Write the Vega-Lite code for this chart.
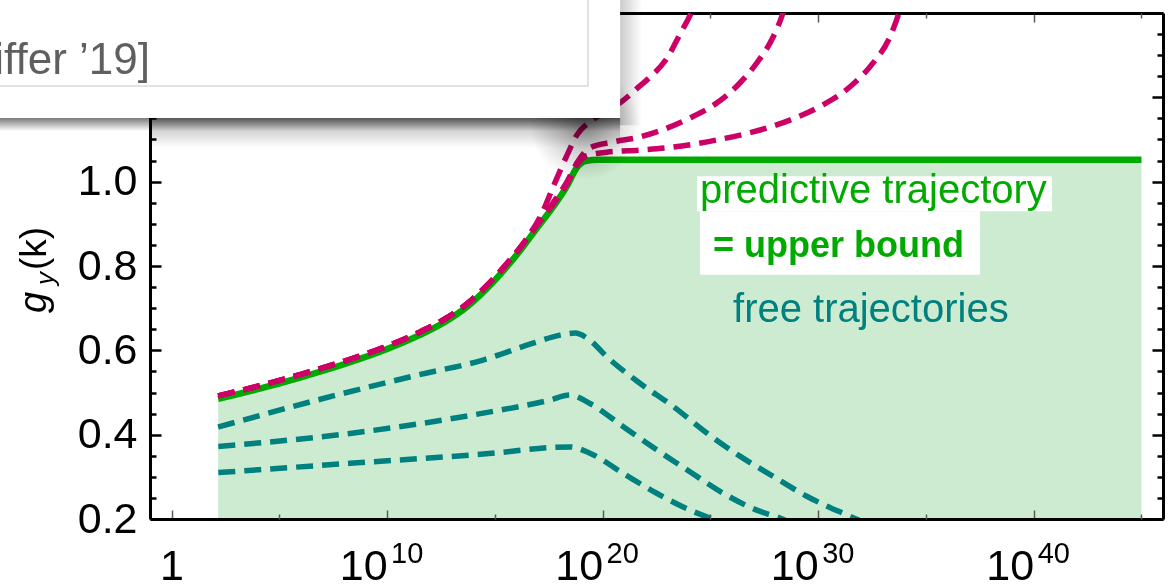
{
  "$schema": "https://vega.github.io/schema/vega-lite/v6.json",
  "width": 1013,
  "height": 506,
  "autosize": {"type": "none"},
  "padding": {"left": 150, "top": 13, "right": 13, "bottom": 66},
  "background": "white",
  "config": {
    "view": {"stroke": null},
    "font": "Liberation Sans",
    "text": {"font": "Liberation Sans"}
  },
  "datasets": {
    "predictive": [
      {"log10_k": 2.16, "g_y": 0.485},
      {"log10_k": 4.0, "g_y": 0.508},
      {"log10_k": 6.0, "g_y": 0.536},
      {"log10_k": 8.0, "g_y": 0.567},
      {"log10_k": 10.0, "g_y": 0.603},
      {"log10_k": 11.5, "g_y": 0.636},
      {"log10_k": 12.7, "g_y": 0.668},
      {"log10_k": 13.7, "g_y": 0.703},
      {"log10_k": 14.6, "g_y": 0.745},
      {"log10_k": 15.5, "g_y": 0.795},
      {"log10_k": 16.3, "g_y": 0.845},
      {"log10_k": 17.0, "g_y": 0.893},
      {"log10_k": 17.7, "g_y": 0.940},
      {"log10_k": 18.35, "g_y": 0.990},
      {"log10_k": 18.8, "g_y": 1.033},
      {"log10_k": 19.2, "g_y": 1.049},
      {"log10_k": 19.8, "g_y": 1.052},
      {"log10_k": 45.0, "g_y": 1.052}
    ],
    "deviating": [
      {"trajectory": "A", "log10_k": 2.16, "g_y": 0.492},
      {"trajectory": "A", "log10_k": 4.0, "g_y": 0.515},
      {"trajectory": "A", "log10_k": 6.0, "g_y": 0.543},
      {"trajectory": "A", "log10_k": 8.0, "g_y": 0.574},
      {"trajectory": "A", "log10_k": 10.0, "g_y": 0.610},
      {"trajectory": "A", "log10_k": 11.5, "g_y": 0.643},
      {"trajectory": "A", "log10_k": 12.7, "g_y": 0.675},
      {"trajectory": "A", "log10_k": 13.7, "g_y": 0.710},
      {"trajectory": "A", "log10_k": 14.6, "g_y": 0.752},
      {"trajectory": "A", "log10_k": 15.5, "g_y": 0.802},
      {"trajectory": "A", "log10_k": 16.3, "g_y": 0.852},
      {"trajectory": "A", "log10_k": 17.23, "g_y": 0.930},
      {"trajectory": "A", "log10_k": 17.70, "g_y": 0.987},
      {"trajectory": "A", "log10_k": 18.35, "g_y": 1.063},
      {"trajectory": "A", "log10_k": 18.81, "g_y": 1.111},
      {"trajectory": "A", "log10_k": 19.41, "g_y": 1.142},
      {"trajectory": "A", "log10_k": 20.11, "g_y": 1.165},
      {"trajectory": "A", "log10_k": 20.81, "g_y": 1.187},
      {"trajectory": "A", "log10_k": 21.73, "g_y": 1.227},
      {"trajectory": "A", "log10_k": 22.20, "g_y": 1.248},
      {"trajectory": "A", "log10_k": 22.99, "g_y": 1.293},
      {"trajectory": "A", "log10_k": 23.59, "g_y": 1.350},
      {"trajectory": "A", "log10_k": 24.15, "g_y": 1.405},
      {"trajectory": "A", "log10_k": 24.38, "g_y": 1.435},
      {"trajectory": "B", "log10_k": 2.16, "g_y": 0.492},
      {"trajectory": "B", "log10_k": 4.0, "g_y": 0.515},
      {"trajectory": "B", "log10_k": 6.0, "g_y": 0.543},
      {"trajectory": "B", "log10_k": 8.0, "g_y": 0.574},
      {"trajectory": "B", "log10_k": 10.0, "g_y": 0.610},
      {"trajectory": "B", "log10_k": 11.5, "g_y": 0.643},
      {"trajectory": "B", "log10_k": 12.7, "g_y": 0.675},
      {"trajectory": "B", "log10_k": 13.7, "g_y": 0.710},
      {"trajectory": "B", "log10_k": 14.6, "g_y": 0.752},
      {"trajectory": "B", "log10_k": 15.5, "g_y": 0.802},
      {"trajectory": "B", "log10_k": 16.3, "g_y": 0.852},
      {"trajectory": "B", "log10_k": 17.0, "g_y": 0.902},
      {"trajectory": "B", "log10_k": 17.70, "g_y": 0.950},
      {"trajectory": "B", "log10_k": 18.35, "g_y": 1.000},
      {"trajectory": "B", "log10_k": 18.81, "g_y": 1.045},
      {"trajectory": "B", "log10_k": 19.41, "g_y": 1.080},
      {"trajectory": "B", "log10_k": 20.48, "g_y": 1.094},
      {"trajectory": "B", "log10_k": 21.73, "g_y": 1.106},
      {"trajectory": "B", "log10_k": 22.99, "g_y": 1.127},
      {"trajectory": "B", "log10_k": 24.05, "g_y": 1.151},
      {"trajectory": "B", "log10_k": 25.31, "g_y": 1.187},
      {"trajectory": "B", "log10_k": 26.37, "g_y": 1.234},
      {"trajectory": "B", "log10_k": 27.16, "g_y": 1.282},
      {"trajectory": "B", "log10_k": 27.91, "g_y": 1.343},
      {"trajectory": "B", "log10_k": 28.37, "g_y": 1.400},
      {"trajectory": "B", "log10_k": 28.55, "g_y": 1.430},
      {"trajectory": "C", "log10_k": 2.16, "g_y": 0.492},
      {"trajectory": "C", "log10_k": 4.0, "g_y": 0.515},
      {"trajectory": "C", "log10_k": 6.0, "g_y": 0.543},
      {"trajectory": "C", "log10_k": 8.0, "g_y": 0.574},
      {"trajectory": "C", "log10_k": 10.0, "g_y": 0.610},
      {"trajectory": "C", "log10_k": 11.5, "g_y": 0.643},
      {"trajectory": "C", "log10_k": 12.7, "g_y": 0.675},
      {"trajectory": "C", "log10_k": 13.7, "g_y": 0.710},
      {"trajectory": "C", "log10_k": 14.6, "g_y": 0.752},
      {"trajectory": "C", "log10_k": 15.5, "g_y": 0.802},
      {"trajectory": "C", "log10_k": 16.3, "g_y": 0.852},
      {"trajectory": "C", "log10_k": 17.0, "g_y": 0.900},
      {"trajectory": "C", "log10_k": 17.70, "g_y": 0.946},
      {"trajectory": "C", "log10_k": 18.35, "g_y": 0.995},
      {"trajectory": "C", "log10_k": 18.81, "g_y": 1.040},
      {"trajectory": "C", "log10_k": 19.28, "g_y": 1.062},
      {"trajectory": "C", "log10_k": 20.20, "g_y": 1.070},
      {"trajectory": "C", "log10_k": 21.73, "g_y": 1.075},
      {"trajectory": "C", "log10_k": 23.27, "g_y": 1.082},
      {"trajectory": "C", "log10_k": 25.31, "g_y": 1.099},
      {"trajectory": "C", "log10_k": 26.98, "g_y": 1.118},
      {"trajectory": "C", "log10_k": 28.69, "g_y": 1.146},
      {"trajectory": "C", "log10_k": 30.22, "g_y": 1.182},
      {"trajectory": "C", "log10_k": 31.48, "g_y": 1.225},
      {"trajectory": "C", "log10_k": 32.54, "g_y": 1.281},
      {"trajectory": "C", "log10_k": 33.33, "g_y": 1.343},
      {"trajectory": "C", "log10_k": 33.75, "g_y": 1.400},
      {"trajectory": "C", "log10_k": 33.94, "g_y": 1.431}
    ],
    "free": [
      {"trajectory": "1", "log10_k": 2.16, "g_y": 0.418},
      {"trajectory": "1", "log10_k": 6.75, "g_y": 0.482},
      {"trajectory": "1", "log10_k": 11.39, "g_y": 0.541},
      {"trajectory": "1", "log10_k": 14.45, "g_y": 0.577},
      {"trajectory": "1", "log10_k": 16.77, "g_y": 0.617},
      {"trajectory": "1", "log10_k": 18.02, "g_y": 0.636},
      {"trajectory": "1", "log10_k": 18.72, "g_y": 0.641},
      {"trajectory": "1", "log10_k": 19.41, "g_y": 0.624},
      {"trajectory": "1", "log10_k": 20.19, "g_y": 0.585},
      {"trajectory": "1", "log10_k": 21.73, "g_y": 0.522},
      {"trajectory": "1", "log10_k": 23.27, "g_y": 0.467},
      {"trajectory": "1", "log10_k": 24.83, "g_y": 0.404},
      {"trajectory": "1", "log10_k": 26.37, "g_y": 0.349},
      {"trajectory": "1", "log10_k": 27.92, "g_y": 0.301},
      {"trajectory": "1", "log10_k": 29.47, "g_y": 0.254},
      {"trajectory": "1", "log10_k": 31.32, "g_y": 0.210},
      {"trajectory": "1", "log10_k": 32.41, "g_y": 0.186},
      {"trajectory": "2", "log10_k": 2.17, "g_y": 0.372},
      {"trajectory": "2", "log10_k": 8.28, "g_y": 0.403},
      {"trajectory": "2", "log10_k": 14.46, "g_y": 0.451},
      {"trajectory": "2", "log10_k": 17.56, "g_y": 0.482},
      {"trajectory": "2", "log10_k": 18.49, "g_y": 0.494},
      {"trajectory": "2", "log10_k": 19.41, "g_y": 0.474},
      {"trajectory": "2", "log10_k": 20.96, "g_y": 0.419},
      {"trajectory": "2", "log10_k": 22.51, "g_y": 0.364},
      {"trajectory": "2", "log10_k": 24.05, "g_y": 0.312},
      {"trajectory": "2", "log10_k": 25.60, "g_y": 0.261},
      {"trajectory": "2", "log10_k": 27.15, "g_y": 0.221},
      {"trajectory": "2", "log10_k": 28.23, "g_y": 0.202},
      {"trajectory": "2", "log10_k": 29.16, "g_y": 0.179},
      {"trajectory": "3", "log10_k": 2.17, "g_y": 0.310},
      {"trajectory": "3", "log10_k": 8.28, "g_y": 0.332},
      {"trajectory": "3", "log10_k": 14.46, "g_y": 0.354},
      {"trajectory": "3", "log10_k": 18.49, "g_y": 0.371},
      {"trajectory": "3", "log10_k": 19.41, "g_y": 0.356},
      {"trajectory": "3", "log10_k": 20.96, "g_y": 0.308},
      {"trajectory": "3", "log10_k": 22.51, "g_y": 0.261},
      {"trajectory": "3", "log10_k": 24.05, "g_y": 0.221},
      {"trajectory": "3", "log10_k": 24.98, "g_y": 0.202},
      {"trajectory": "3", "log10_k": 25.91, "g_y": 0.181}
    ],
    "decades": [
      {"log10_k": 10, "exponent": "10"},
      {"log10_k": 20, "exponent": "20"},
      {"log10_k": 30, "exponent": "30"},
      {"log10_k": 40, "exponent": "40"}
    ]
  },
  "resolve": {"axis": {"x": "independent", "y": "independent"}},
  "layer": [
    {
      "data": {"name": "predictive"},
      "mark": {"type": "area", "color": "#cdebd0", "interpolate": "monotone", "clip": true},
      "encoding": {
        "x": {"field": "log10_k", "type": "quantitative", "scale": {"domain": [-1, 46], "nice": false, "zero": false},
          "axis": {"orient": "bottom", "values": [0, 10, 20, 30, 40], "tickSize": -9, "tickColor": "#5a5a5a", "tickWidth": 1.5,
            "domain": true, "domainColor": "#000000", "domainWidth": 3, "grid": false, "title": null,
            "labelExpr": "datum.value == 0 ? '1' : '10'",
            "labelAlign": {"condition": {"test": "datum.value == 0", "value": "center"}, "value": "right"},
            "labelFont": "Liberation Sans", "labelFontSize": 43, "labelColor": "#000000", "labelPadding": 35,
            "labelBaseline": "top", "labelFlush": false, "labelOverlap": false, "zindex": 1}},
        "y": {"field": "g_y", "type": "quantitative", "scale": {"domain": [0.2, 1.4], "nice": false, "zero": false},
          "axis": {"orient": "left", "values": [0.2, 0.4, 0.6, 0.8, 1.0, 1.2, 1.4], "tickSize": -11, "tickColor": "#000000", "tickWidth": 2.5,
            "domain": true, "domainColor": "#000000", "domainWidth": 3, "grid": false, "title": null, "format": ".1f",
            "labelFont": "Liberation Sans", "labelFontSize": 43, "labelColor": "#000000", "labelPadding": 24,
            "labelFlush": false, "labelOverlap": false, "zindex": 0}},
        "y2": {"datum": 0.2}
      }
    },
    {
      "data": {"values": [{}]},
      "mark": {"type": "rect", "fill": "white"},
      "encoding": {
        "x": {"datum": 24.38, "type": "quantitative", "scale": {"domain": [-1, 46], "nice": false, "zero": false},
          "axis": {"orient": "bottom", "values": [5, 15, 25, 35, 45], "tickSize": -5, "tickColor": "#5a5a5a", "tickWidth": 1.5,
            "domain": false, "grid": false, "labels": false, "title": null, "zindex": 1}},
        "x2": {"datum": 40.85},
        "y": {"datum": 1.013, "type": "quantitative", "scale": {"domain": [0.2, 1.4], "nice": false, "zero": false},
          "axis": {"orient": "left", "values": [0.25, 0.3, 0.35, 0.45, 0.5, 0.55, 0.65, 0.7, 0.75, 0.85, 0.9, 0.95, 1.05, 1.1, 1.15, 1.25, 1.3, 1.35],
            "tickSize": -6, "tickColor": "#000000", "tickWidth": 2.5, "domain": false, "grid": false, "labels": false, "title": null, "zindex": 0}},
        "y2": {"datum": 0.93}
      }
    },
    {
      "data": {"values": [{}]},
      "mark": {"type": "rect", "fill": "white"},
      "encoding": {
        "x": {"datum": 24.52, "type": "quantitative", "scale": {"domain": [-1, 46], "nice": false, "zero": false}, "axis": null},
        "x2": {"datum": 37.51},
        "y": {"datum": 0.93, "type": "quantitative", "scale": {"domain": [0.2, 1.4], "nice": false, "zero": false}, "axis": null},
        "y2": {"datum": 0.779}
      }
    },
    {
      "data": {"name": "predictive"},
      "mark": {"type": "line", "color": "#00aa00", "strokeWidth": 6.5, "interpolate": "monotone", "clip": true},
      "encoding": {
        "x": {"field": "log10_k", "type": "quantitative", "scale": {"domain": [-1, 46], "nice": false, "zero": false},
          "axis": {"orient": "top", "values": [0, 10, 20, 30, 40], "tickSize": -9, "tickColor": "#5a5a5a", "tickWidth": 1.5,
            "domain": true, "domainColor": "#000000", "domainWidth": 3, "grid": false, "labels": false, "title": null, "zindex": 0}},
        "y": {"field": "g_y", "type": "quantitative", "scale": {"domain": [0.2, 1.4], "nice": false, "zero": false},
          "axis": {"orient": "right", "values": [0.2, 0.4, 0.6, 0.8, 1.0, 1.2, 1.4], "tickSize": -11, "tickColor": "#000000", "tickWidth": 2.5,
            "domain": true, "domainColor": "#000000", "domainWidth": 3, "grid": false, "labels": false, "title": null, "zindex": 1}}
      }
    },
    {
      "data": {"name": "deviating"},
      "mark": {"type": "line", "color": "#cc0066", "strokeWidth": 5.5, "strokeDash": [17, 9], "interpolate": "monotone", "clip": true},
      "encoding": {
        "detail": {"field": "trajectory"},
        "x": {"field": "log10_k", "type": "quantitative", "scale": {"domain": [-1, 46], "nice": false, "zero": false},
          "axis": {"orient": "top", "values": [5, 15, 25, 35, 45], "tickSize": -5, "tickColor": "#5a5a5a", "tickWidth": 1.5,
            "domain": false, "grid": false, "labels": false, "title": null, "zindex": 0}},
        "y": {"field": "g_y", "type": "quantitative", "scale": {"domain": [0.2, 1.4], "nice": false, "zero": false},
          "axis": {"orient": "right", "values": [0.25, 0.3, 0.35, 0.45, 0.5, 0.55, 0.65, 0.7, 0.75, 0.85, 0.9, 0.95, 1.05, 1.1, 1.15, 1.25, 1.3, 1.35],
            "tickSize": -6, "tickColor": "#000000", "tickWidth": 2.5, "domain": false, "grid": false, "labels": false, "title": null, "zindex": 1}}
      }
    },
    {
      "data": {"name": "free"},
      "mark": {"type": "line", "color": "#00807f", "strokeWidth": 5.5, "strokeDash": [17, 9], "interpolate": "monotone", "clip": true},
      "encoding": {
        "detail": {"field": "trajectory"},
        "x": {"field": "log10_k", "type": "quantitative", "scale": {"domain": [-1, 46], "nice": false, "zero": false}, "axis": null},
        "y": {"field": "g_y", "type": "quantitative", "scale": {"domain": [0.2, 1.4], "nice": false, "zero": false}, "axis": null}
      }
    },
    {
      "data": {"values": [{}]},
      "mark": {"type": "text", "text": "predictive trajectory", "font": "Liberation Sans", "fontSize": 40, "color": "#00aa00", "align": "left", "baseline": "alphabetic"},
      "encoding": {
        "x": {"datum": 24.52, "type": "quantitative", "scale": {"domain": [-1, 46], "nice": false, "zero": false}, "axis": null},
        "y": {"datum": 0.949, "type": "quantitative", "scale": {"domain": [0.2, 1.4], "nice": false, "zero": false}, "axis": null}
      }
    },
    {
      "data": {"values": [{}]},
      "mark": {"type": "text", "text": "= upper bound", "font": "Liberation Sans", "fontSize": 36, "fontWeight": "bold", "color": "#00aa00", "align": "left", "baseline": "alphabetic"},
      "encoding": {
        "x": {"datum": 25.12, "type": "quantitative", "scale": {"domain": [-1, 46], "nice": false, "zero": false}, "axis": null},
        "y": {"datum": 0.821, "type": "quantitative", "scale": {"domain": [0.2, 1.4], "nice": false, "zero": false}, "axis": null}
      }
    },
    {
      "data": {"values": [{}]},
      "mark": {"type": "text", "text": "free trajectories", "font": "Liberation Sans", "fontSize": 40, "color": "#00807f", "align": "left", "baseline": "alphabetic"},
      "encoding": {
        "x": {"datum": 26.05, "type": "quantitative", "scale": {"domain": [-1, 46], "nice": false, "zero": false}, "axis": null},
        "y": {"datum": 0.667, "type": "quantitative", "scale": {"domain": [0.2, 1.4], "nice": false, "zero": false}, "axis": null}
      }
    },
    {
      "data": {"name": "decades"},
      "mark": {"type": "text", "font": "Liberation Sans", "fontSize": 29, "color": "#000000", "align": "left", "baseline": "alphabetic", "dx": 4, "dy": 44},
      "encoding": {
        "text": {"field": "exponent"},
        "x": {"field": "log10_k", "type": "quantitative", "scale": {"domain": [-1, 46], "nice": false, "zero": false}, "axis": null},
        "y": {"datum": 0.2, "type": "quantitative", "scale": {"domain": [0.2, 1.4], "nice": false, "zero": false}, "axis": null}
      }
    },
    {
      "data": {"values": [{}]},
      "mark": {"type": "text", "text": "g", "font": "Liberation Sans", "fontSize": 38, "fontStyle": "italic", "color": "#000000", "align": "left", "baseline": "alphabetic", "angle": 270, "dx": -23, "dy": -104},
      "encoding": {
        "x": {"datum": -1, "type": "quantitative", "scale": {"domain": [-1, 46], "nice": false, "zero": false}, "axis": null},
        "y": {"datum": 0.743, "type": "quantitative", "scale": {"domain": [0.2, 1.4], "nice": false, "zero": false}, "axis": null}
      }
    },
    {
      "data": {"values": [{}]},
      "mark": {"type": "text", "text": "y", "font": "Liberation Sans", "fontSize": 26, "fontStyle": "italic", "color": "#000000", "align": "left", "baseline": "alphabetic", "angle": 270, "dx": 5, "dy": -96},
      "encoding": {
        "x": {"datum": -1, "type": "quantitative", "scale": {"domain": [-1, 46], "nice": false, "zero": false}, "axis": null},
        "y": {"datum": 0.743, "type": "quantitative", "scale": {"domain": [0.2, 1.4], "nice": false, "zero": false}, "axis": null}
      }
    },
    {
      "data": {"values": [{}]},
      "mark": {"type": "text", "text": "(k)", "font": "Liberation Sans", "fontSize": 37, "color": "#000000", "align": "left", "baseline": "alphabetic", "angle": 270, "dx": 20, "dy": -104},
      "encoding": {
        "x": {"datum": -1, "type": "quantitative", "scale": {"domain": [-1, 46], "nice": false, "zero": false}, "axis": null},
        "y": {"datum": 0.743, "type": "quantitative", "scale": {"domain": [0.2, 1.4], "nice": false, "zero": false}, "axis": null}
      }
    },
    {
      "data": {"values": [{}]},
      "mark": {"type": "rect", "blend": "multiply", "fill": {"gradient": "radial", "x1": 0.5, "y1": 0.5, "r1": 0, "x2": 0.5, "y2": 0.5, "r2": 0.5,
        "stops": [{"offset": 0, "color": "#9c9c9c"}, {"offset": 0.55, "color": "#d6d6d6"}, {"offset": 1, "color": "#ffffff"}]}},
      "encoding": {
        "x": {"datum": 16.63, "type": "quantitative", "scale": {"domain": [-1, 46], "nice": false, "zero": false}, "axis": null},
        "x2": {"datum": 21.73},
        "y": {"datum": 1.265, "type": "quantitative", "scale": {"domain": [0.2, 1.4], "nice": false, "zero": false}, "axis": null},
        "y2": {"datum": 1.004}
      }
    },
    {
      "data": {"values": [{}]},
      "mark": {"type": "rect", "blend": "multiply", "fill": {"gradient": "linear", "x1": 0, "y1": 0, "x2": 0, "y2": 1,
        "stops": [{"offset": 0, "color": "#b4b4b4"}, {"offset": 1, "color": "#ffffff"}]}},
      "encoding": {
        "x": {"datum": -1, "type": "quantitative", "scale": {"domain": [-1, 46], "nice": false, "zero": false}, "axis": null},
        "x2": {"datum": 20.81},
        "y": {"datum": 1.151, "type": "quantitative", "scale": {"domain": [0.2, 1.4], "nice": false, "zero": false}, "axis": null},
        "y2": {"datum": 1.08}
      }
    },
    {
      "data": {"values": [{}]},
      "mark": {"type": "rect", "blend": "multiply", "fill": {"gradient": "linear", "x1": 0, "y1": 0, "x2": 0, "y2": 1,
        "stops": [{"offset": 0, "color": "#7a7a7a"}, {"offset": 1, "color": "#ffffff"}]}},
      "encoding": {
        "x": {"datum": -8, "type": "quantitative", "scale": {"domain": [-1, 46], "nice": false, "zero": false}, "axis": null},
        "x2": {"datum": 20.81},
        "y": {"datum": 1.151, "type": "quantitative", "scale": {"domain": [0.2, 1.4], "nice": false, "zero": false}, "axis": null},
        "y2": {"datum": 1.12}
      }
    },
    {
      "data": {"values": [{}]},
      "mark": {"type": "rect", "blend": "multiply", "fill": {"gradient": "linear", "x1": 0, "y1": 0, "x2": 1, "y2": 0,
        "stops": [{"offset": 0, "color": "#cccccc"}, {"offset": 1, "color": "#ffffff"}]}},
      "encoding": {
        "x": {"datum": 20.81, "type": "quantitative", "scale": {"domain": [-1, 46], "nice": false, "zero": false}, "axis": null},
        "x2": {"datum": 21.83},
        "y": {"datum": 1.45, "type": "quantitative", "scale": {"domain": [0.2, 1.4], "nice": false, "zero": false}, "axis": null},
        "y2": {"datum": 1.134}
      }
    },
    {
      "data": {"values": [{}]},
      "mark": {"type": "rect", "fill": "white"},
      "encoding": {
        "x": {"datum": -9, "type": "quantitative", "scale": {"domain": [-1, 46], "nice": false, "zero": false}, "axis": null},
        "x2": {"datum": 20.81},
        "y": {"datum": 1.45, "type": "quantitative", "scale": {"domain": [0.2, 1.4], "nice": false, "zero": false}, "axis": null},
        "y2": {"datum": 1.151}
      }
    },
    {
      "data": {"values": [{}]},
      "mark": {"type": "rect", "fill": "white", "stroke": "#dadada", "strokeWidth": 1.5},
      "encoding": {
        "x": {"datum": -9, "type": "quantitative", "scale": {"domain": [-1, 46], "nice": false, "zero": false}, "axis": null},
        "x2": {"datum": 19.32},
        "y": {"datum": 1.45, "type": "quantitative", "scale": {"domain": [0.2, 1.4], "nice": false, "zero": false}, "axis": null},
        "y2": {"datum": 1.227}
      }
    },
    {
      "data": {"values": [{}]},
      "mark": {"type": "text", "text": "iffer \u201919]", "font": "Liberation Sans", "fontSize": 44, "color": "#5f5f5f", "align": "right", "baseline": "alphabetic"},
      "encoding": {
        "x": {"datum": -1, "type": "quantitative", "scale": {"domain": [-1, 46], "nice": false, "zero": false}, "axis": null},
        "y": {"datum": 1.255, "type": "quantitative", "scale": {"domain": [0.2, 1.4], "nice": false, "zero": false}, "axis": null}
      }
    }
  ]
}
